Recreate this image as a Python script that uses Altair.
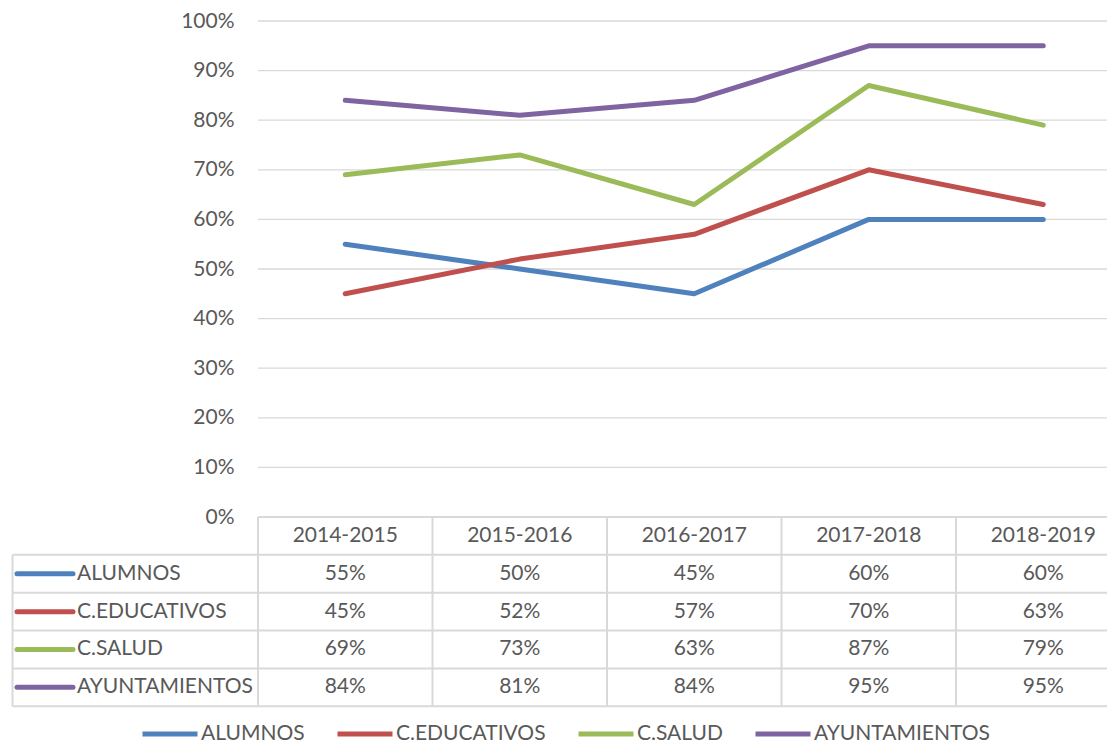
import altair as alt
import pandas as pd

# ---------------- data ----------------
categories = ["2014-2015", "2015-2016", "2016-2017", "2017-2018", "2018-2019"]
series_names = ["ALUMNOS", "C.EDUCATIVOS", "C.SALUD", "AYUNTAMIENTOS"]
alumnos = [55, 50, 45, 60, 60]
c_educativos = [45, 52, 57, 70, 63]
c_salud = [69, 73, 63, 87, 79]
ayuntamientos = [84, 81, 84, 95, 95]
series_colors = ["#4F81BD", "#C0504D", "#9BBB59", "#8064A2"]
y_ticks = [0, 10, 20, 30, 40, 50, 60, 70, 80, 90, 100]

# ---------------- style / layout ----------------
FONT = "Lato"
FS = 21
TXT = "#595959"
GRID = "#D9D9D9"

B = 174.5            # px per category band
W = 1095             # plot width (px)
H = 737              # plot height (px)
PXU = 4.96           # px per percentage point
X_MIN = -0.5 - 246 / B
X_MAX = X_MIN + W / B
Y_MAX = 100 + 13 / PXU
Y_MIN = Y_MAX - H / PXU
RH = 37.85 / PXU     # table row height in y units
N_ROWS = len(series_names) + 1

values = [alumnos, c_educativos, c_salud, ayuntamientos]
rows = []
for r, (name, vals, col) in enumerate(zip(series_names, values, series_colors)):
    for i, (cat, v) in enumerate(zip(categories, vals)):
        rows.append({"series": name, "cat": cat, "idx": i, "value": v,
                     "label": f"{v}%", "ty": -(r + 1.5) * RH, "hex": col})
df = pd.DataFrame(rows)

xs = alt.Scale(domain=[X_MIN, X_MAX], nice=False, zero=False)
ys = alt.Scale(domain=[Y_MIN, Y_MAX], nice=False, zero=False)
yaxis = alt.Axis(values=y_ticks, labelExpr="datum.value + '%'", grid=False,
                 domain=False, ticks=False, offset=-222, labelPadding=0,
                 labelFont=FONT, labelFontSize=FS, labelColor=TXT,
                 labelOverlap=False, title=None)


def X(f):
    return alt.X(f, type="quantitative", scale=xs, axis=None)


def Y(f):
    return alt.Y(f, type="quantitative", scale=ys, axis=yaxis)


# gridlines
df_grid = pd.DataFrame({"y": y_ticks, "x": -0.5, "x2": X_MAX})
grid = alt.Chart(df_grid).mark_rule(color=GRID, strokeWidth=1.3).encode(
    x=X("x"), x2="x2", y=Y("y"))

# table horizontal lines
hy = [-(k) * RH for k in range(N_ROWS + 1)]
df_h = pd.DataFrame({"y": hy, "x": [-0.5] + [X_MIN + 0.5 / B] * N_ROWS, "x2": X_MAX})
hlines = alt.Chart(df_h).mark_rule(color=GRID, strokeWidth=2).encode(
    x=X("x"), x2="x2", y=Y("y"))

# table vertical lines
vx = [X_MIN + 0.5 / B] + [i - 0.5 for i in range(len(categories))]
df_v = pd.DataFrame({"x": vx, "y": [-RH] + [0.0] * (len(vx) - 1), "y2": -N_ROWS * RH})
vlines = alt.Chart(df_v).mark_rule(color=GRID, strokeWidth=2).encode(
    x=X("x"), y=Y("y"), y2="y2")

# data lines
lines = alt.Chart(df).mark_line(strokeWidth=5, strokeCap="round", strokeJoin="round").encode(
    x=X("idx"), y=Y("value"),
    color=alt.Color("series:N", sort=series_names,
                    scale=alt.Scale(domain=series_names, range=series_colors),
                    legend=alt.Legend(orient="none", legendX=128, legendY=696,
                                      direction="horizontal", title=None,
                                      symbolType="stroke", symbolSize=3025,
                                      symbolStrokeWidth=5, labelFont=FONT,
                                      labelFontSize=FS, labelColor=TXT,
                                      labelOffset=1, columnPadding=22,
                                      labelLimit=400)))

# header texts
df_hdr = pd.DataFrame({"cat": categories, "idx": list(range(len(categories))), "y": -0.5 * RH})
hdr = alt.Chart(df_hdr).mark_text(font=FONT, fontSize=FS, color=TXT, baseline="middle",
                                  align="center").encode(x=X("idx"), y=Y("y"), text="cat")

# cell texts
cells = alt.Chart(df).mark_text(font=FONT, fontSize=FS, color=TXT, baseline="middle",
                                align="center").encode(x=X("idx"), y=Y("ty"), text="label")

# row labels with colored keys
df_lab = pd.DataFrame({"series": series_names, "hex": series_colors,
                       "y": [-(r + 1.5) * RH for r in range(len(series_names))],
                       "x": X_MIN + 5 / B, "x2": X_MIN + 61 / B, "xt": X_MIN + 65 / B})
keys = alt.Chart(df_lab).mark_rule(strokeWidth=5, strokeCap="round").encode(
    x=X("x"), x2="x2", y=Y("y"), color=alt.Color("hex:N", scale=None))
labs = alt.Chart(df_lab).mark_text(font=FONT, fontSize=FS, color=TXT, baseline="middle",
                                   align="left").encode(x=X("xt"), y=Y("y"), text="series")

chart = alt.layer(grid, hlines, vlines, lines, hdr, cells, keys, labs).properties(
    width=W, height=H,
    autosize=alt.AutoSizeParams(type="none"),
    padding={"left": 4, "top": 0, "right": 0, "bottom": 0},
).configure_view(stroke=None)

chart.save("out.html", embed_options={"renderer": "svg", "actions": False})
